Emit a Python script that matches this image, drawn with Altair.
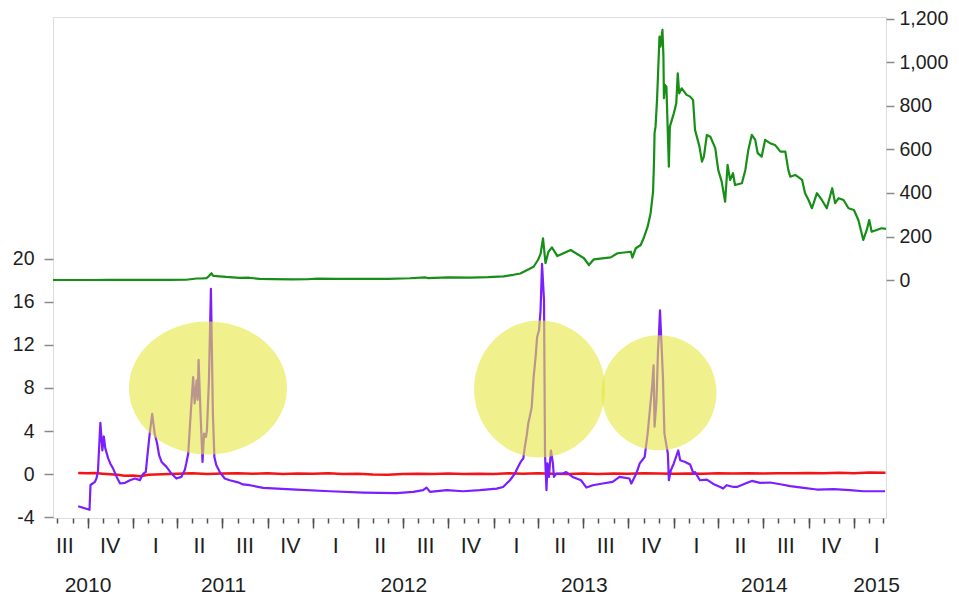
import altair as alt
import pandas as pd

# ---------------- data ----------------
price_dates = [
    "2010-07-23", "2010-09-01", "2010-10-15", "2010-11-10", "2011-01-01", "2011-02-10", "2011-03-15", "2011-04-19",
    "2011-05-10", "2011-05-20", "2011-05-30", "2011-06-04", "2011-06-09", "2011-06-12", "2011-06-15", "2011-06-25",
    "2011-07-09", "2011-08-05", "2011-08-22", "2011-09-15", "2011-10-11", "2011-11-21", "2011-12-20",
    "2012-01-10", "2012-02-15", "2012-04-01", "2012-06-01", "2012-07-15", "2012-08-15", "2012-08-20", "2012-10-01",
    "2012-11-15", "2012-12-20", "2013-01-21", "2013-02-10", "2013-02-24", "2013-03-10", "2013-03-23", "2013-04-01",
    "2013-04-06", "2013-04-11", "2013-04-16", "2013-04-22", "2013-04-29", "2013-05-10", "2013-06-06", "2013-07-03",
    "2013-07-13", "2013-07-23", "2013-08-26", "2013-09-09", "2013-10-06", "2013-10-09", "2013-10-16", "2013-10-26",
    "2013-11-02", "2013-11-09", "2013-11-15", "2013-11-20", "2013-11-22", "2013-11-23", "2013-11-25", "2013-11-28",
    "2013-12-03", "2013-12-05", "2013-12-09", "2013-12-11", "2013-12-12", "2013-12-14", "2013-12-17", "2013-12-22",
    "2013-12-24", "2014-01-01", "2014-01-06", "2014-01-09", "2014-01-12", "2014-01-17", "2014-01-27", "2014-02-03",
    "2014-02-09", "2014-02-13", "2014-02-22", "2014-02-27", "2014-03-03", "2014-03-09", "2014-03-16", "2014-03-26",
    "2014-04-01", "2014-04-08", "2014-04-15", "2014-04-20", "2014-04-25", "2014-05-01", "2014-05-05", "2014-05-19",
    "2014-05-26", "2014-06-01", "2014-06-08", "2014-06-15", "2014-06-20", "2014-06-28", "2014-07-05", "2014-07-15",
    "2014-07-25", "2014-08-05", "2014-08-15", "2014-08-21", "2014-08-25", "2014-09-04", "2014-09-18", "2014-09-24",
    "2014-10-01", "2014-10-08", "2014-10-18", "2014-10-28", "2014-11-07", "2014-11-18", "2014-11-24", "2014-12-01",
    "2014-12-11", "2014-12-21", "2015-01-01", "2015-01-10", "2015-01-20", "2015-01-27", "2015-02-01", "2015-02-06",
    "2015-02-16", "2015-02-26", "2015-03-07",
]
price_values = [
    0.06, 0.06, 0.1, 0.3, 0.3, 1.0, 0.9, 1.2,
    7, 7, 9, 18, 31, 20, 19, 17,
    14, 10, 11, 5, 4, 2.5, 3.5,
    6.5, 5, 5, 5.5, 8, 12, 9, 12,
    11, 13, 17, 24, 30, 46, 61, 93,
    120, 192, 77, 130, 150, 110, 138, 100,
    69, 95, 104, 123, 130, 103, 146, 161,
    199, 245, 307, 406, 552, 675, 705, 828,
    1119, 1073, 1150, 1027, 836, 897, 889, 521,
    705, 766, 812, 950, 858, 881, 851, 843,
    828, 690, 613, 544, 567, 667, 659, 606,
    506, 452, 360, 529, 460, 491, 437, 445,
    506, 598, 667, 644, 583, 567, 644, 629,
    621, 590, 590, 506, 475, 483, 460, 399,
    368, 330, 399, 368, 330, 422, 353, 376,
    368, 330, 322, 276, 184, 230, 276, 222,
    230, 238, 235,
]

spread_dates = [
    "2010-09-12", "2010-10-05", "2010-10-07", "2010-10-16", "2010-10-19", "2010-10-22", "2010-10-27", "2010-10-31",
    "2010-11-03", "2010-11-06", "2010-11-12", "2010-11-16", "2010-11-22", "2010-11-29", "2010-12-06", "2010-12-16",
    "2010-12-26", "2011-01-05", "2011-01-15", "2011-01-22", "2011-01-27", "2011-01-30", "2011-02-04", "2011-02-09",
    "2011-02-14", "2011-02-19", "2011-02-23", "2011-02-28", "2011-03-10", "2011-03-20", "2011-03-30", "2011-04-09",
    "2011-04-16", "2011-04-19", "2011-04-23", "2011-04-28", "2011-05-03", "2011-05-06", "2011-05-10", "2011-05-12",
    "2011-05-14", "2011-05-18", "2011-05-22", "2011-05-25", "2011-05-29", "2011-05-31", "2011-06-04", "2011-06-08",
    "2011-06-12", "2011-06-15", "2011-06-19", "2011-06-26", "2011-07-06", "2011-07-16", "2011-08-02", "2011-08-12",
    "2011-08-26", "2011-09-22", "2011-11-28", "2012-02-04", "2012-04-12", "2012-06-18", "2012-07-22", "2012-08-11",
    "2012-08-18", "2012-08-25", "2012-09-28", "2012-10-31", "2012-12-04", "2013-01-07", "2013-01-20", "2013-02-03",
    "2013-02-13", "2013-02-16", "2013-02-23", "2013-02-27", "2013-03-02", "2013-03-05", "2013-03-09", "2013-03-12",
    "2013-03-15", "2013-03-19", "2013-03-23", "2013-03-27", "2013-03-30", "2013-04-03", "2013-04-06", "2013-04-09",
    "2013-04-13", "2013-04-15", "2013-04-18", "2013-04-20", "2013-04-23", "2013-04-27", "2013-05-01", "2013-05-03",
    "2013-05-08", "2013-05-21", "2013-05-28", "2013-06-10", "2013-06-27", "2013-07-08", "2013-07-21", "2013-08-10",
    "2013-08-30", "2013-09-13", "2013-10-03", "2013-10-07", "2013-10-17", "2013-10-24", "2013-11-03", "2013-11-09",
    "2013-11-14", "2013-11-18", "2013-11-21", "2013-11-23", "2013-11-27", "2013-11-30", "2013-12-02", "2013-12-04",
    "2013-12-07", "2013-12-10", "2013-12-13", "2013-12-20", "2013-12-22", "2013-12-26", "2014-01-01", "2014-01-10",
    "2014-01-14", "2014-01-24", "2014-02-03", "2014-02-10", "2014-02-13", "2014-02-23", "2014-03-09", "2014-03-22",
    "2014-04-05", "2014-04-11", "2014-04-18", "2014-05-02", "2014-05-09", "2014-05-26", "2014-06-08", "2014-06-25",
    "2014-07-15", "2014-08-05", "2014-08-25", "2014-09-21", "2014-10-18", "2014-11-21", "2014-12-24", "2015-01-20",
    "2015-03-05",
]
spread_values = [
    -2.97, -3.3, -1.0, -0.7, -0.4, 0.2, 4.76, 2.2,
    3.5, 2.4, 1.45, 1.0, 0.5, -0.25, -0.86, -0.8,
    -0.56, -0.4, -0.55, 0.06, 0.2, 1.6, 3.77, 5.6,
    3.8, 2.85, 1.76, 1.14, 0.68, 0.06, -0.4, -0.25,
    0.4, 1.0, 1.9, 5.6, 9.0, 6.56, 8.7, 6.9,
    10.6, 5.6, 1.14, 3.77, 3.46, 4.1, 8.7, 17.2,
    5.6, 1.6, 0.83, 0.2, -0.4, -0.56, -0.75, -0.95,
    -1.02, -1.27, -1.42, -1.58, -1.70, -1.76, -1.64, -1.48,
    -1.24, -1.64, -1.48, -1.58, -1.48, -1.33, -1.18, -0.56,
    0.06, 0.37, 1.0, 1.3, 1.45, 2.5, 3.6, 4.7,
    5.3, 6.2, 9.0, 10.9, 12.7, 13.4, 15.2, 19.5,
    16.1, 1.9, -1.48, 1.0, -0.25, 2.2, 1.0, -0.25,
    0.06, 0.06, 0.2, -0.25, -0.56, -1.24, -1.02, -0.86,
    -0.71, -0.25, -0.4, -0.86, 0.06, 1.0, 1.6, 3.77,
    6.2, 8.1, 10.1, 4.4, 6.9, 11.5, 13.05, 15.2,
    12.1, 9.0, 3.77, 1.9, -0.56, 0.37, 1.0, 2.2,
    1.3, 1.14, 0.9, 0.06, 0.2, -0.56, -0.5, -0.9,
    -1.18, -1.33, -1.02, -1.18, -1.18, -0.86, -0.62, -0.8,
    -0.77, -0.93, -1.11, -1.27, -1.42, -1.39, -1.48, -1.58,
    -1.58,
]

red_dates = [
    "2010-09-12", "2010-10-01", "2010-10-15", "2010-11-01", "2010-12-01", "2010-12-15", "2011-01-01", "2011-01-15",
    "2011-02-01", "2011-03-01", "2011-04-01", "2011-05-01", "2011-06-01", "2011-07-01", "2011-08-01", "2011-09-01",
    "2011-10-01", "2011-11-01", "2011-12-01", "2012-01-01", "2012-02-01", "2012-03-01", "2012-04-01", "2012-05-01",
    "2012-06-01", "2012-07-01", "2012-08-01", "2012-09-01", "2012-10-01", "2012-11-01", "2012-12-01", "2013-01-01",
    "2013-02-01", "2013-03-01", "2013-04-01", "2013-05-01", "2013-06-01", "2013-07-01", "2013-08-01", "2013-09-01",
    "2013-10-01", "2013-11-01", "2013-12-01", "2014-01-01", "2014-02-01", "2014-03-01", "2014-04-01", "2014-05-01",
    "2014-06-01", "2014-07-01", "2014-08-01", "2014-09-01", "2014-10-01", "2014-11-01", "2014-12-01", "2015-01-01",
    "2015-02-01", "2015-03-06",
]
red_values = [
    0.12, 0.08, 0.12, 0.05, -0.05, -0.15, -0.12, -0.18,
    -0.05, 0.0, 0.05, 0.08, 0.02, 0.06, 0.1, 0.05,
    0.08, 0.03, 0.07, 0.04, 0.08, 0.02, 0.05, -0.02,
    -0.05, 0.02, 0.05, 0.03, 0.06, 0.02, 0.05, 0.03,
    0.08, 0.05, 0.1, 0.04, 0.02, 0.06, 0.03, 0.07,
    0.05, 0.1, 0.06, 0.04, 0.07, 0.05, 0.08, 0.06,
    0.1, 0.07, 0.1, 0.08, 0.12, 0.1, 0.13, 0.1,
    0.15, 0.13,
]

ellipse_dates = ["2011-06-02", "2013-04-04", "2013-12-02"]
ellipse_values = [8.0, 7.9, 7.55]
ellipse_widths = [158, 131, 115]
ellipse_heights = [133, 137, 115]

left_ticks = [-4, 0, 4, 8, 12, 16, 20]
right_ticks = [0, 200, 400, 600, 800, 1000, 1200]
years = [2010, 2011, 2012, 2013, 2014, 2015]
domain_start = "2010-07-23"
domain_end = "2015-03-07"

# ---------------- helpers ----------------
FONT = "Liberation Sans"
TXT = "#1e1e1e"


def dt(ts):
    ts = pd.Timestamp(ts)
    return alt.DateTime(year=ts.year, month=ts.month, date=ts.day, hours=ts.hour)


start_ts = pd.Timestamp(domain_start)
end_ts = pd.Timestamp(domain_end)

quarters = []
for yr in years:
    for q in range(1, 5):
        qs = pd.Timestamp(year=yr, month=3 * q - 2, day=1)
        qe = qs + pd.offsets.QuarterBegin(startingMonth=1)
        if qe > start_ts and qs < end_ts:
            quarters.append((yr, q, qs, qe))

month_vals = [dt(m) for m in pd.date_range(start_ts, end_ts, freq="MS")]
qtick_vals = [dt(qs) for (_, _, qs, _) in quarters if qs > start_ts]
qmid_vals = [dt(pd.Timestamp(year=qs.year, month=qs.month + 1, day=15)) for (_, _, qs, _) in quarters]
year_vals = []
for yr in years:
    qs_ = [(qs, qe) for (y, _, qs, qe) in quarters if y == yr]
    s, e = qs_[0][0], qs_[-1][1]
    year_vals.append(dt(s + (e - s) / 2))

price_df = pd.DataFrame({"date": pd.to_datetime(price_dates), "value": price_values})
spread_df = pd.DataFrame({"date": pd.to_datetime(spread_dates), "value": spread_values})
red_df = pd.DataFrame({"date": pd.to_datetime(red_dates), "value": red_values})

xscale = alt.Scale(domain=[dt(start_ts), dt(end_ts)])
left_scale = alt.Scale(domain=[-4.06, 42.4], nice=False, zero=False)
right_scale = alt.Scale(domain=[-1094, 1209], nice=False, zero=False)

common_x = dict(grid=False, title=None, domain=False, orient="bottom",
                labelOverlap=False, labelBound=False, labelFlush=False)

month_axis = alt.Axis(values=month_vals, labels=False, ticks=True, tickSize=5,
                      tickColor="#505050", tickWidth=1.5, **common_x)
qtick_axis = alt.Axis(values=qtick_vals, labels=False, ticks=True, tickSize=10,
                      tickColor="#505050", tickWidth=1.5, **common_x)
qlabel_axis = alt.Axis(values=qmid_vals, ticks=False, labelPadding=17, labelFontSize=21.5,
                       labelFont=FONT, labelColor=TXT,
                       labelExpr="['I','I','I','II','II','II','III','III','III','IV','IV','IV'][month(datum.value)]",
                       **common_x)
year_axis = alt.Axis(values=year_vals, ticks=False, labelPadding=56, labelFontSize=21,
                     labelFont=FONT, labelColor=TXT, format="%Y", **common_x)

left_axis = alt.Axis(values=left_ticks, orient="left", tickSize=9, tickColor="#8a8a8a", tickWidth=1.5,
                     labelPadding=10, labelFontSize=19.5, labelFont=FONT, labelColor=TXT,
                     labelExpr="'' + datum.value", domain=False, grid=False, title=None,
                     labelOverlap=False, labelFlush=False)
right_axis = alt.Axis(values=right_ticks, orient="right", tickSize=8, tickColor="#8a8a8a", tickWidth=1.5,
                      labelPadding=5, labelFontSize=19.5, labelFont=FONT, labelColor=TXT,
                      format=",d", domain=False, grid=False, title=None,
                      labelOverlap=False, labelFlush=False)

green = alt.Chart(price_df).mark_line(color="#178f17", strokeWidth=2.2, strokeJoin="round").encode(
    x=alt.X("date:T", scale=xscale, axis=month_axis),
    y=alt.Y("value:Q", scale=right_scale, axis=right_axis),
)
red = alt.Chart(red_df).mark_line(color="#f41414", strokeWidth=2.5, strokeJoin="round").encode(
    x=alt.X("date:T", scale=xscale, axis=qtick_axis),
    y=alt.Y("value:Q", scale=left_scale, axis=None),
)
purple = alt.Chart(spread_df).mark_line(color="#7b1fff", strokeWidth=2.2, strokeJoin="round").encode(
    x=alt.X("date:T", scale=xscale, axis=qlabel_axis),
    y=alt.Y("value:Q", scale=left_scale, axis=left_axis),
)

ellipses = []
for i, (d, v, w, h) in enumerate(zip(ellipse_dates, ellipse_values, ellipse_widths, ellipse_heights)):
    s = max(w, h)
    rx, ry = w / s, h / s
    path = f"M{-rx},0A{rx},{ry},0,1,0,{rx},0A{rx},{ry},0,1,0,{-rx},0Z"
    edf = pd.DataFrame({"date": pd.to_datetime([d]), "value": [v]})
    ch = alt.Chart(edf).mark_point(shape=path, size=s * s, filled=True, fill="#e6e640",
                                   opacity=0.6, strokeWidth=0).encode(
        x=alt.X("date:T", scale=xscale, axis=year_axis if i == 0 else None),
        y=alt.Y("value:Q", scale=left_scale, axis=None),
    )
    ellipses.append(ch)

chart = alt.layer(green, red, purple, *ellipses).resolve_scale(
    y="independent"
).resolve_axis(
    x="independent", y="independent"
).properties(
    width=833, height=501,
    padding={"left": 45, "top": 9, "right": 65, "bottom": 82},
    autosize=alt.AutoSizeParams(type="none"),
).configure_view(
    stroke="#3a3a3a", strokeWidth=1.6
).configure(background="white")

chart.save("out.html", embed_options={"renderer": "svg", "actions": False})
